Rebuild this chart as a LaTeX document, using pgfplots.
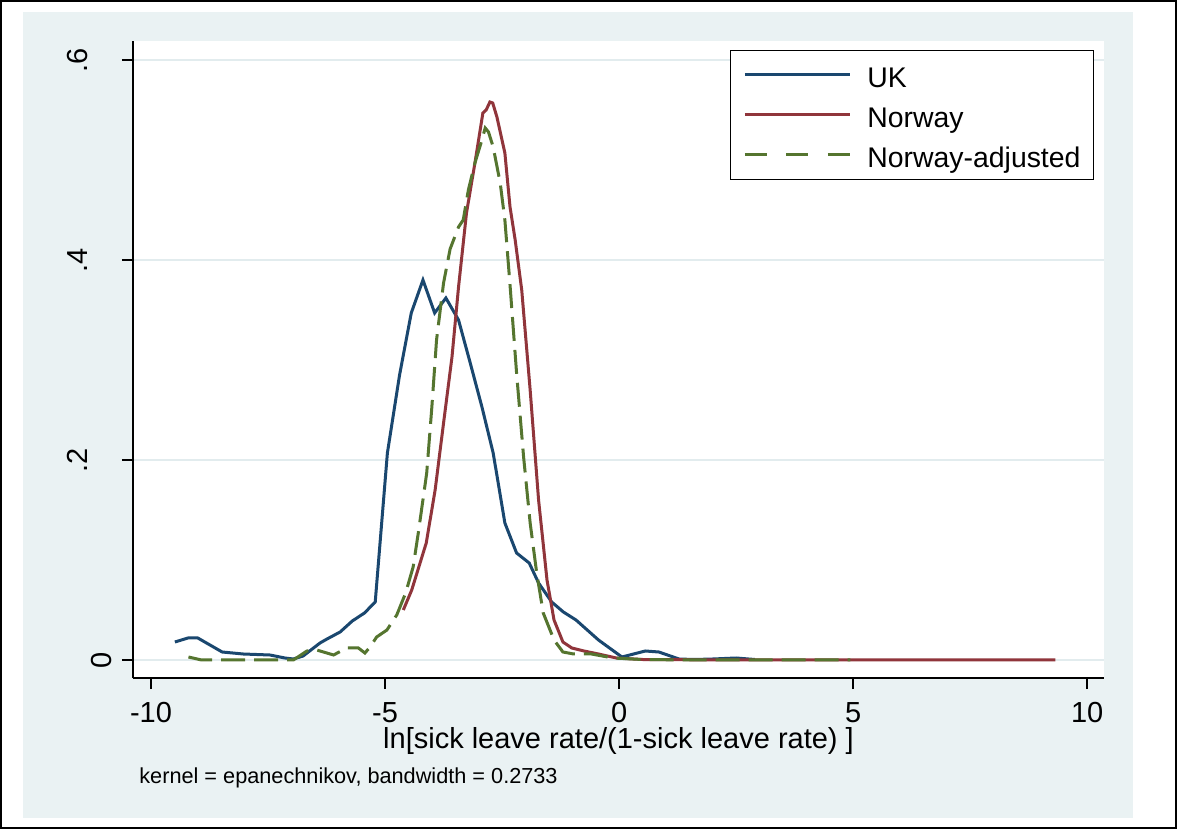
\documentclass[border=0pt]{standalone}
\usepackage{fontspec}
\setmainfont{Liberation Sans}
\usepackage{pgfplots}
\pgfplotsset{compat=1.18}
\definecolor{ukc}{HTML}{1A476F}
\definecolor{noc}{HTML}{90353B}
\definecolor{adc}{HTML}{55752F}
\definecolor{bgc}{HTML}{EAF2F3}
\definecolor{gridc}{HTML}{E2ECEE}
\begin{document}
\begin{tikzpicture}
\useasboundingbox (-66.5bp,-75.5bp) rectangle (522bp,339bp);
\fill[white] (-66.5bp,-75.5bp) rectangle (522bp,339bp);
\draw[black,line width=1bp] (-66bp,-75bp) rectangle (521.5bp,338.5bp);
\fill[bgc] (-55bp,-70bp) rectangle (500bp,333bp);
\begin{axis}[
  at={(0,0)}, anchor=south west,
  scale only axis, width=485.5bp, height=318.5bp,
  xmin=-10.385, xmax=10.36, ymin=-0.018, ymax=0.619,
  axis background/.style={fill=white},
  axis x line*=bottom, axis y line*=left,
  axis line style={line width=0.7bp},
  every tick/.style={black, line width=0.7bp},
  tick align=outside, major tick length=5.5bp,
  xtick={-10,-5,0,5,10}, xticklabels={-10,-5,0,5,10},
  ytick={0,0.2,0.4,0.6},
  yticklabels={0,\raisebox{12bp}{.2},\raisebox{12bp}{.4},\raisebox{12bp}{.6}},
  xticklabel style={font=\fontsize{14.5bp}{17bp}\selectfont, anchor=base, inner sep=0pt},
  yticklabel style={font=\fontsize{14.5bp}{17bp}\selectfont, rotate=90, anchor=base, inner sep=0pt},
  xticklabel shift=16.5bp,
  yticklabel shift=5bp,
  ymajorgrids, y grid style={gridc, line width=1bp},
  every axis x label/.style={at={(axis description cs:0.5,0)}, anchor=base, yshift=-35bp, font=\fontsize{14.5bp}{17bp}\selectfont},
  xlabel={ln[sick leave rate/(1-sick leave rate) ]},
  legend style={at={(rel axis cs:1,1)}, anchor=north east, xshift=-5bp, yshift=-4.5bp,
    draw=black, line width=0.5bp, fill=white, font=\fontsize{14.2bp}{17bp}\selectfont,
    inner xsep=6.5bp, inner ysep=3.5bp, row sep=2.5bp, column sep=8bp,
    nodes={inner sep=0pt, text height=15bp, text depth=2.5bp}},
  legend cell align=left,
  legend image code/.code={\draw[#1] (0bp,0bp) -- (52.5bp,0bp);},
  clip=false,
]
\addplot[ukc, line width=1.5bp] coordinates {
(-9.49,0.018) (-9.21,0.022) (-9.0,0.022) (-8.48,0.008) (-8.03,0.006) (-7.46,0.005) (-7.14,0.002) (-6.96,0.001) (-6.75,0.004) (-6.39,0.017) (-6.24,0.021) (-5.96,0.028) (-5.70,0.039) (-5.44,0.047) (-5.21,0.058) (-4.95,0.207) (-4.69,0.285) (-4.44,0.347) (-4.19,0.38) (-3.94,0.347) (-3.70,0.362) (-3.43,0.34) (-3.18,0.297) (-2.93,0.253) (-2.69,0.207) (-2.44,0.137) (-2.19,0.107) (-1.92,0.097) (-1.72,0.077) (-1.44,0.058) (-1.19,0.048) (-0.92,0.040) (-0.44,0.02) (0.06,0.003) (0.56,0.009) (0.85,0.008) (1.28,0.001) (1.6,0.0005) (2.0,0.001) (2.5,0.002) (2.9,0.0005)
};
\addlegendentry{UK}
\addplot[noc, line width=1.5bp] coordinates {
(-4.61,0.05) (-4.43,0.07) (-4.12,0.117) (-3.93,0.17) (-3.75,0.237) (-3.57,0.303) (-3.43,0.373) (-3.26,0.447) (-3.08,0.497) (-2.91,0.547) (-2.84,0.55) (-2.76,0.558) (-2.70,0.557) (-2.61,0.543) (-2.44,0.507) (-2.33,0.453) (-2.22,0.42) (-2.08,0.37) (-1.90,0.27) (-1.72,0.16) (-1.54,0.08) (-1.39,0.04) (-1.2,0.018) (-1.01,0.012) (-0.75,0.009) (-0.44,0.006) (-0.06,0.002) (0.5,0.0005) (1.0,0.0003) (2.0,0.0002) (4,0) (9.32,0)
};
\addlegendentry{Norway}
\addplot[adc, line width=1.5bp, dash pattern=on 12bp off 4.5bp, forget plot] coordinates {
(-9.2,0.003) (-8.92,0.0) (-6.96,0.0) (-6.67,0.009) (-6.46,0.01) (-6.1,0.005) (-5.82,0.012) (-5.57,0.012) (-5.43,0.007) (-5.32,0.013) (-5.18,0.023) (-4.96,0.03) (-4.82,0.04) (-4.75,0.045) (-4.56,0.067) (-4.40,0.093) (-4.29,0.127) (-4.11,0.187) (-4.0,0.253) (-3.9,0.32) (-3.75,0.377) (-3.61,0.411) (-3.43,0.433) (-3.33,0.44) (-3.22,0.47) (-3.08,0.497) (-2.95,0.517) (-2.86,0.532) (-2.79,0.528) (-2.69,0.513) (-2.54,0.477) (-2.44,0.44) (-2.33,0.375) (-2.19,0.287) (-2.04,0.203) (-1.90,0.137) (-1.76,0.087) (-1.62,0.047) (-1.39,0.02) (-1.2,0.008) (-0.97,0.006) (-0.59,0.006) (-0.13,0.002) (0.5,0.0005) (1.5,0) (4.94,0)
};
\addlegendimage{adc, line width=1.5bp, dash pattern=on 11bp off 9.75bp}
\addlegendentry{Norway-adjusted}
\node[anchor=base west, inner sep=0pt, font=\fontsize{10.85bp}{13bp}\selectfont] at (axis description cs:0,0) [xshift=3bp, yshift=-52.5bp] {kernel = epanechnikov, bandwidth = 0.2733};
\end{axis}
\end{tikzpicture}
\end{document}
